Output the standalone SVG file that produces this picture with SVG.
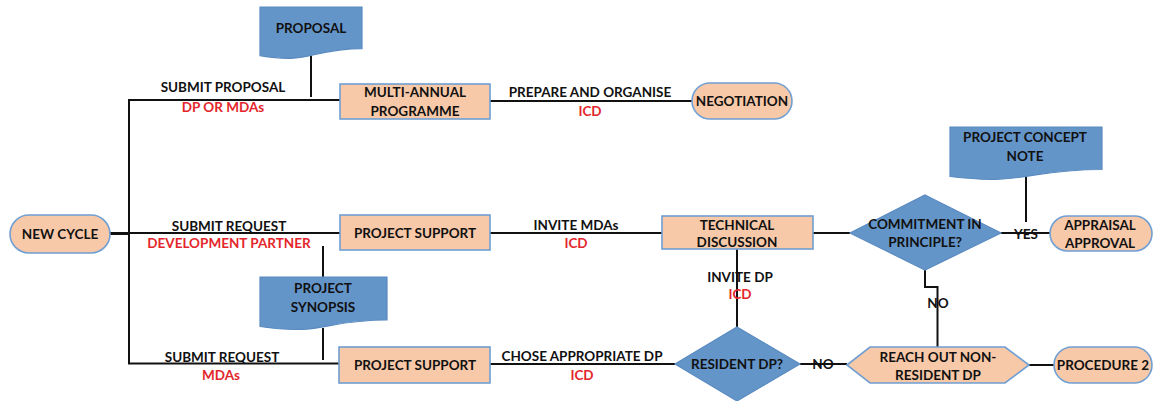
<svg xmlns="http://www.w3.org/2000/svg" width="1153" height="401" viewBox="0 0 1153 401">
  <style>
    text { font-family: Lato, "Open Sans", "Liberation Sans", sans-serif; font-weight: bold; font-size: 13.5px; text-anchor: middle; dominant-baseline: central; fill: #111; }
    .red { fill: #e3262b; }
    .proc { fill: #f8c9a8; stroke: #6f9fd3; stroke-width: 1.6; }
    .doc { fill: #6495c9; stroke: #5a8bc0; stroke-width: 1.2; }
    .dec { fill: #6495c9; stroke: #5a8bc0; stroke-width: 1.2; }
    .conn { fill: none; stroke: #111; stroke-width: 2; }
  </style>
  <rect width="1153" height="401" fill="#ffffff"/>

  <!-- connectors -->
  <g id="connectors" class="conn">
    <path d="M110 233.5 H129" stroke-width="3"/>
    <path d="M129 100 V363.5"/>
    <path d="M128 100 H340"/>
    <path d="M311 56 V97"/>
    <path d="M490 101 H692"/>
    <path d="M129 233 H340"/>
    <path d="M490 233 H662"/>
    <path d="M813 233 H850"/>
    <path d="M1001 233 H1050"/>
    <path d="M1026 172 V222"/>
    <path d="M128 363.5 H339"/>
    <path d="M323 246 V277"/>
    <path d="M323 328 V360"/>
    <path d="M490 364 H675"/>
    <path d="M737 249 V327"/>
    <path d="M800 364 H847"/>
    <path d="M925 270 V287 H937.5 V347"/>
    <path d="M1029 365 H1054"/>
  </g>

  <!-- connector labels -->
  <g id="labels">
    <text x="223" y="87">SUBMIT PROPOSAL</text>
    <text x="223" y="107" class="red">DP OR MDAs</text>
    <text x="590" y="92">PREPARE AND ORGANISE</text>
    <text x="590" y="111" class="red">ICD</text>
    <text x="229" y="226">SUBMIT REQUEST</text>
    <text x="229" y="243" class="red">DEVELOPMENT PARTNER</text>
    <text x="576" y="225">INVITE MDAs</text>
    <text x="576" y="243" class="red">ICD</text>
    <text x="1026" y="234">YES</text>
    <text x="740" y="277">INVITE DP</text>
    <text x="740" y="294" class="red">ICD</text>
    <text x="938" y="303">NO</text>
    <text x="823" y="364">NO</text>
    <text x="222" y="357">SUBMIT REQUEST</text>
    <text x="221" y="375" class="red">MDAs</text>
    <text x="582" y="356">CHOSE APPROPRIATE DP</text>
    <text x="582" y="375" class="red">ICD</text>
  </g>

  <g id="proposal">
    <path class="doc" d="M260 7 H362 V48.7 C311 48.7 311 64.6 260 55.6 Z"/>
    <text x="311" y="28">PROPOSAL</text>
  </g>

  <g id="multi-annual-programme">
    <rect class="proc" x="340" y="84" width="150" height="35"/>
    <text x="415" y="92">MULTI-ANNUAL</text>
    <text x="415" y="111">PROGRAMME</text>
  </g>

  <g id="negotiation">
    <rect class="proc" x="692" y="83" width="100" height="36" rx="18"/>
    <text x="742" y="101">NEGOTIATION</text>
  </g>

  <g id="new-cycle">
    <rect class="proc" x="10" y="215" width="100" height="38" rx="19"/>
    <text x="60" y="234">NEW CYCLE</text>
  </g>

  <g id="project-support-dp">
    <rect class="proc" x="340" y="215" width="150" height="35"/>
    <text x="415" y="233">PROJECT SUPPORT</text>
  </g>

  <g id="technical-discussion">
    <rect class="proc" x="662" y="216" width="151" height="33"/>
    <text x="737" y="225">TECHNICAL</text>
    <text x="737" y="242">DISCUSSION</text>
  </g>

  <g id="commitment">
    <path class="dec" d="M925 195 L1001 233 L925 270 L850 233 Z"/>
    <text x="925" y="224">COMMITMENT IN</text>
    <text x="925" y="242">PRINCIPLE?</text>
  </g>

  <g id="project-concept-note">
    <path class="doc" d="M950 127 H1102 V169.5 C1026 169.5 1026 185.7 950 176.5 Z"/>
    <text x="1025" y="137">PROJECT CONCEPT</text>
    <text x="1025" y="156">NOTE</text>
  </g>

  <g id="appraisal-approval">
    <rect class="proc" x="1050" y="216" width="102" height="35" rx="17.5"/>
    <text x="1100" y="225">APPRAISAL</text>
    <text x="1100" y="243">APPROVAL</text>
  </g>

  <g id="project-synopsis">
    <path class="doc" d="M260 277 H387 V320 C323 320 323 336 260 326.5 Z"/>
    <text x="323" y="288">PROJECT</text>
    <text x="323" y="307">SYNOPSIS</text>
  </g>

  <g id="project-support-mdas">
    <rect class="proc" x="339" y="347" width="151" height="36"/>
    <text x="415" y="365">PROJECT SUPPORT</text>
  </g>

  <g id="resident-dp">
    <path class="dec" d="M737 327 L800 364 L737 401 L675 364 Z"/>
    <text x="737" y="364">RESIDENT DP?</text>
  </g>

  <g id="reach-out">
    <path class="proc" d="M847 365 L870 347 H1005 L1029 365 L1005 383 H870 Z"/>
    <text x="938" y="357">REACH OUT NON-</text>
    <text x="938" y="375">RESIDENT DP</text>
  </g>

  <g id="procedure-2">
    <rect class="proc" x="1054" y="347" width="98" height="36" rx="18"/>
    <text x="1103" y="365">PROCEDURE 2</text>
  </g>
</svg>
